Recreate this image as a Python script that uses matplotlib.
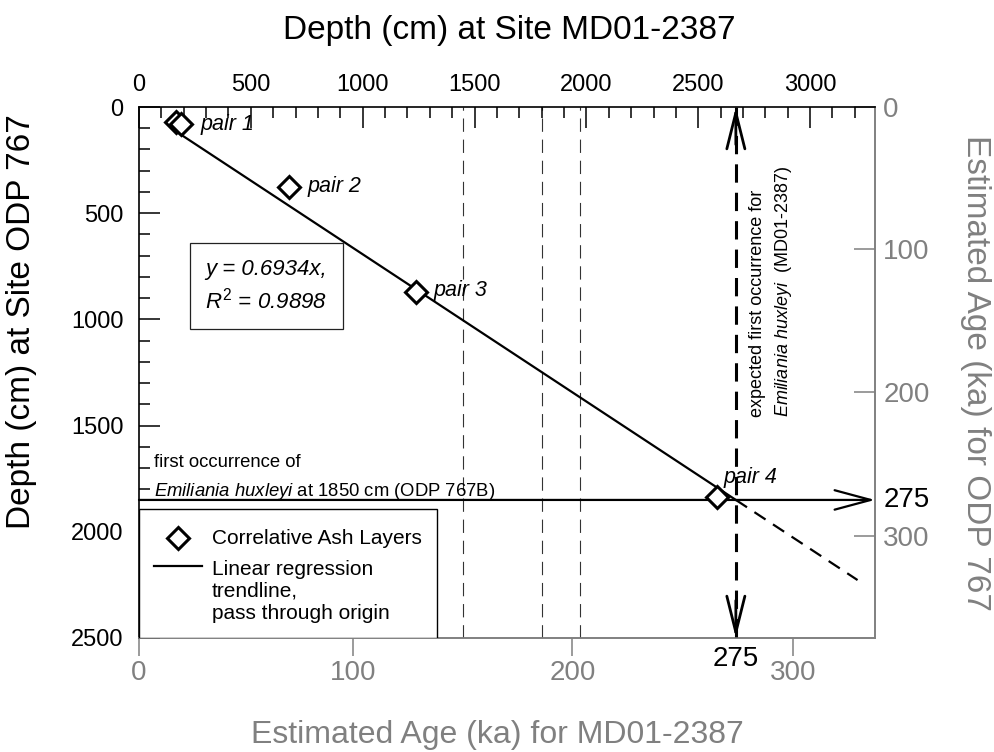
import numpy as np
import matplotlib
matplotlib.use('Agg')
import matplotlib.pyplot as plt
from matplotlib.patches import Rectangle
from matplotlib.ticker import MultipleLocator

plt.rcParams['font.family'] = ['Liberation Sans', 'DejaVu Sans']
plt.rcParams['mathtext.fontset'] = 'custom'
plt.rcParams['mathtext.rm'] = 'Liberation Sans'
plt.rcParams['mathtext.it'] = 'Liberation Sans:italic'

GRAY = '#808080'

# correlative ash layers: depth (cm) in both cores
pair_id = [1, 1, 2, 3, 4]
md_depth = [165, 188, 672, 1238, 2583]
odp_depth = [72, 81, 376, 873, 1835]

# regression through origin
slope = 0.6934
r2 = 0.9898
trend_end = 3212

# first occurrence of E. huxleyi in ODP 767B
fo_depth = 1850
fo_age = 275

# age scales: depth (cm) of each age tick (ka)
md_age_ticks = [0, 100, 200, 300]
md_age_depth = [0, 955, 1937, 2923]
odp_age_ticks = [0, 100, 200, 300]
odp_age_depth = [0, 670, 1341, 2019]

# thin dashed reference depths in MD01-2387
md_marker_depths = [1450, 1803, 1972]

md_max = 3290
odp_max = 2500

fig = plt.figure(figsize=(9.95, 7.52), dpi=100)
ax = fig.add_axes([0.1397, 0.1516, 0.7397, 0.7061])
ax.set_xlim(0, md_max)
ax.set_ylim(odp_max, 0)

# primary axes: depths
ax.xaxis.tick_top()
ax.xaxis.set_major_locator(MultipleLocator(500))
ax.xaxis.set_minor_locator(MultipleLocator(100))
ax.yaxis.set_major_locator(MultipleLocator(500))
ax.yaxis.set_minor_locator(MultipleLocator(100))
ax.tick_params(which='major', direction='in', length=15, width=1.1, labelsize=17)
ax.tick_params(which='minor', direction='in', length=8, width=1.1)
ax.tick_params(axis='x', which='major', pad=8)
ax.tick_params(axis='y', which='major', pad=11)
ax.tick_params(axis='x', which='both', bottom=False, top=True)
ax.tick_params(axis='y', which='both', right=False)
for side in ['left', 'top']:
    ax.spines[side].set_linewidth(1.2)
for side in ['right', 'bottom']:
    ax.spines[side].set_color(GRAY)
    ax.spines[side].set_linewidth(1.2)

# secondary axes: ages
secx = ax.secondary_xaxis('bottom')
secx.set_xticks(md_age_depth, labels=[str(a) for a in md_age_ticks])
secx.tick_params(direction='out', length=13, width=1.1, color=GRAY,
                 labelcolor=GRAY, labelsize=20, pad=3)
secx.spines['bottom'].set_color(GRAY)
secx.spines['bottom'].set_linewidth(1.2)

secy = ax.secondary_yaxis('right')
secy.set_yticks(odp_age_depth, labels=[str(a) for a in odp_age_ticks])
secy.tick_params(direction='in', length=15, width=1.1, color=GRAY,
                 labelcolor=GRAY, labelsize=20, pad=6)
secy.spines['right'].set_color(GRAY)
secy.spines['right'].set_linewidth(1.2)

# reference depths
for d in md_marker_depths:
    ax.axvline(d, color='#333333', lw=0.8, ls=(0, (12, 7)), zorder=1)

# regression line, solid to the FO depth and dashed beyond
x_fo = fo_depth / slope
ax.plot([md_depth[0], x_fo], [slope * md_depth[0], slope * x_fo],
        color='k', lw=1.6, zorder=3)
ax.plot([x_fo, trend_end], [slope * x_fo, slope * trend_end],
        color='k', lw=1.6, ls=(0, (6, 4)), zorder=3)

# horizontal FO line with arrow to the right axis
arrow_style = '->,head_length=2.6,head_width=0.7'
ax.annotate('', xy=(md_max, fo_depth), xytext=(0, fo_depth),
            arrowprops=dict(arrowstyle=arrow_style, lw=1.6, color='k',
                            shrinkA=0, shrinkB=0, mutation_scale=10),
            annotation_clip=False, zorder=4)

# vertical expected-FO line with arrows at both ends
ax.plot([x_fo, x_fo], [0, odp_max], color='k', lw=2.2, ls=(0, (6, 3.3)), zorder=4)
for y_end, dy in [(0, -27), (odp_max, 27)]:
    ax.annotate('', xy=(x_fo, y_end), xytext=(0, dy), textcoords='offset points',
                arrowprops=dict(arrowstyle='->,head_length=2.6,head_width=0.65',
                                lw=2.0, color='k', shrinkA=0, shrinkB=0,
                                mutation_scale=10),
                annotation_clip=False, zorder=4)

# ash layer pairs
ax.plot(md_depth, odp_depth, ls='none', marker='D', ms=11.5, mfc='white',
        mec='k', mew=2.2, zorder=5)
label_offsets = {1: (14, 0), 2: (13, 0), 3: (12.5, 1.5), 4: (4.5, 14)}
for pid, (dx, dy) in label_offsets.items():
    i = max(k for k, p in enumerate(pair_id) if p == pid)
    ax.annotate(f'pair {pid}', xy=(md_depth[i], odp_depth[i]), xytext=(dx, dy),
                textcoords='offset points', ha='left', va='center',
                fontsize=15.5, style='italic', zorder=6)

# regression equation
ax.text(0.09, 0.663, f'y = {slope}x,\n$R^2$ = {r2}', transform=ax.transAxes,
        ha='left', va='center', fontsize=16, style='italic', linespacing=1.35,
        bbox=dict(boxstyle='square,pad=0.7', fc='white', ec='#222222', lw=0.9),
        zorder=6)

# FO annotations
ax.annotate('first occurrence of', xy=(0, fo_depth),
            xycoords=('axes fraction', 'data'), xytext=(10.5, 24),
            textcoords='offset points', ha='left', va='baseline', fontsize=13.3)
ax.annotate(r'$\mathit{Emiliania\ huxleyi}$ at ' + f'{fo_depth} cm (ODP 767B)',
            xy=(0, fo_depth), xycoords=('axes fraction', 'data'),
            xytext=(10.5, 2.5), textcoords='offset points', ha='left',
            va='baseline', fontsize=13.3)
ax.annotate('expected first occurrence for', xy=(x_fo, 0.416),
            xycoords=('data', 'axes fraction'), xytext=(15.5, 0),
            textcoords='offset points', rotation=90, ha='center', va='bottom',
            fontsize=13)
ax.annotate(r'$\mathit{Emiliania\ huxleyi}$  (MD01-2387)', xy=(x_fo, 0.416),
            xycoords=('data', 'axes fraction'), xytext=(34, 0),
            textcoords='offset points', rotation=90, ha='center', va='bottom',
            fontsize=13)

# age labels for the FO
ax.annotate(str(fo_age), xy=(x_fo, 0), xycoords=('data', 'axes fraction'),
            xytext=(0, -6), textcoords='offset points', ha='center', va='top',
            fontsize=20, annotation_clip=False)
ax.annotate(str(fo_age), xy=(1, fo_depth), xycoords=('axes fraction', 'data'),
            xytext=(6, 0), textcoords='offset points', ha='left', va='center',
            fontsize=20, annotation_clip=False)

# legend drawn in the lower-left corner
ax.add_patch(Rectangle((0, 0), 0.405, 0.243, transform=ax.transAxes,
                       fc='white', ec='k', lw=1.0, zorder=7))
ax.plot([0.053], [0.188], transform=ax.transAxes, ls='none', marker='D', ms=11.5,
        mfc='white', mec='k', mew=2.2, zorder=8, clip_on=False)
ax.plot([0.0204, 0.0856], [0.1356, 0.1356], transform=ax.transAxes, color='k',
        lw=1.6, zorder=8, clip_on=False)
ax.text(0.099, 0.188, 'Correlative Ash Layers', transform=ax.transAxes,
        ha='left', va='center', fontsize=15, zorder=8)
ax.text(0.099, 0.0358, 'Linear regression\ntrendline,\npass through origin',
        transform=ax.transAxes, ha='left', va='baseline', fontsize=15,
        linespacing=1.2, zorder=8)

# axis titles
fig.text(0.512, 0.96, 'Depth (cm) at Site MD01-2387', ha='center', va='center',
         fontsize=24)
fig.text(0.022, 0.572, 'Depth (cm) at Site ODP 767', ha='center', va='center',
         rotation=90, fontsize=24)
fig.text(0.5, 0.023, 'Estimated Age (ka) for MD01-2387', ha='center',
         va='center', fontsize=23, color=GRAY)
fig.text(0.98, 0.504, 'Estimated Age (ka) for ODP 767', ha='center',
         va='center', rotation=-90, fontsize=24, color=GRAY)

fig.savefig('out.png', dpi=100)
